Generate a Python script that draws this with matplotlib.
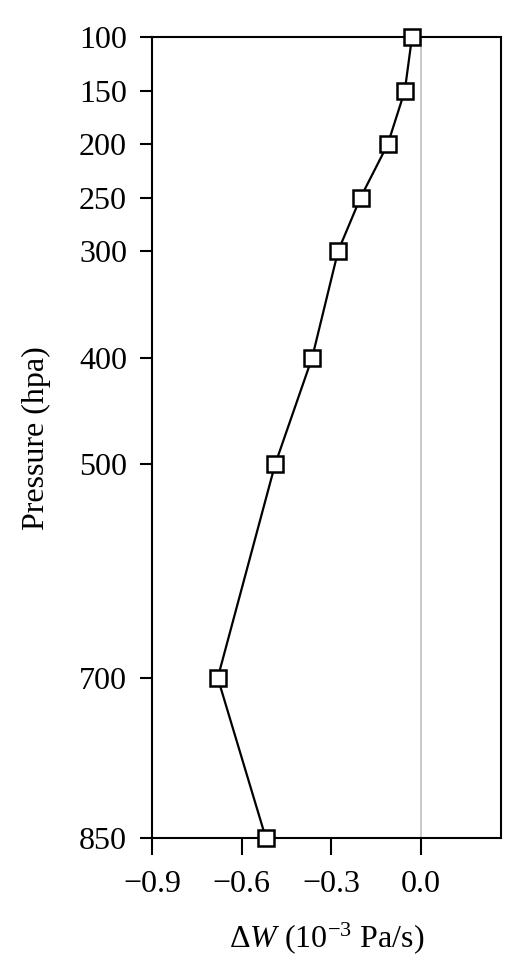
import matplotlib
matplotlib.use("Agg")
import matplotlib.pyplot as plt

plt.rcParams["font.family"] = ["Liberation Serif", "DejaVu Serif"]
plt.rcParams["mathtext.fontset"] = "custom"
plt.rcParams["mathtext.rm"] = "Liberation Serif"
plt.rcParams["mathtext.it"] = "Liberation Serif:italic"

pressure = [100, 150, 200, 250, 300, 400, 500, 700, 850]
delta_w = [-0.030, -0.054, -0.111, -0.202, -0.277, -0.364, -0.488, -0.680, -0.519]
x_ticks = [-0.9, -0.6, -0.3, 0.0]
x_tick_labels = ["\u22120.9", "\u22120.6", "\u22120.3", "0.0"]

fig = plt.figure(figsize=(5.32, 9.76), dpi=100)
ax = fig.add_axes([0.2857, 0.1414, 0.9417 - 0.2857, 0.9616 - 0.1414])

ax.axvline(0.0, color="#c8c8c8", lw=1.4, zorder=1)
ax.plot(delta_w, pressure, color="black", lw=1.6, marker="s", markersize=11,
        markerfacecolor="white", markeredgecolor="black", markeredgewidth=1.8,
        zorder=3, clip_on=False)

ax.set_xlim(-0.9, 0.268)
ax.set_ylim(850, 100)
ax.set_yticks(pressure)
ax.set_xticks(x_ticks)
ax.set_xticklabels(x_tick_labels)

for s in ax.spines.values():
    s.set_linewidth(1.5)

ax.tick_params(axis="y", direction="out", length=9, width=1.5, labelsize=23, pad=9)
ax.tick_params(axis="x", direction="out", length=12, width=1.5, labelsize=23, pad=11)

ax.set_ylabel("Pressure (hpa)", fontsize=23, labelpad=20)
ax.set_xlabel(r"$\Delta W$ (10$^{-3}$ Pa/s)", fontsize=23, labelpad=15)

fig.savefig("out.png", dpi=100)
